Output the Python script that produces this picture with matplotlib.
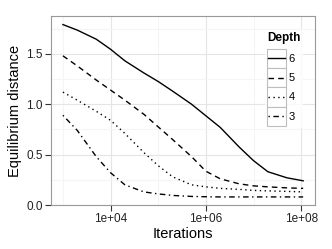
import matplotlib
matplotlib.use("Agg")
import matplotlib.pyplot as plt
from matplotlib.legend_handler import HandlerLine2D
from matplotlib.patches import Rectangle
from matplotlib.lines import Line2D

# iterations (x) and equilibrium distance for each tree depth
iterations = [1e3, 2e3, 5e3, 1e4, 2e4, 5e4, 1e5, 2e5, 5e5, 1e6, 2e6, 5e6, 1e7, 2e7, 5e7, 1.1e8]
depth6 = [1.79, 1.735, 1.645, 1.545, 1.43, 1.31, 1.225, 1.13, 1.00, 0.885, 0.77, 0.575, 0.44, 0.33, 0.27, 0.24]
depth5 = [1.48, 1.38, 1.24, 1.14, 1.04, 0.90, 0.775, 0.65, 0.48, 0.335, 0.26, 0.21, 0.19, 0.18, 0.17, 0.165]
depth4 = [1.12, 1.04, 0.93, 0.84, 0.71, 0.52, 0.39, 0.28, 0.20, 0.18, 0.165, 0.155, 0.145, 0.14, 0.135, 0.13]
depth3 = [0.89, 0.74, 0.48, 0.32, 0.20, 0.13, 0.11, 0.095, 0.085, 0.082, 0.08, 0.08, 0.08, 0.08, 0.08, 0.08]

styles = {"6": "-", "5": (0, (4, 3)), "4": (0, (1, 2.5)), "3": (0, (1, 2.5, 4, 2.5))}
series = [("6", depth6), ("5", depth5), ("4", depth4), ("3", depth3)]

plt.rcParams["font.family"] = ["Liberation Sans", "DejaVu Sans"]

fig = plt.figure(figsize=(3.32, 2.49), dpi=100)
ax = fig.add_axes([51/332, 44/249, 264/332, 189/249])

for name, ys in series:
    ax.plot(iterations, ys, color="black", lw=1.0, ls=styles[name], label=name)

ax.set_xscale("log")
ax.set_xlim(10**2.75, 10**8.29)
ax.set_ylim(0.0, 1.875)
ax.set_xticks([1e4, 1e6, 1e8])
ax.set_xticklabels(["1e+04", "1e+06", "1e+08"])
ax.set_xticks([1e3, 1e5, 1e7], minor=True)
ax.set_yticks([0.0, 0.5, 1.0, 1.5])
ax.set_yticklabels(["0.0", "0.5", "1.0", "1.5"])
ax.set_yticks([0.25, 0.75, 1.25, 1.75], minor=True)
ax.xaxis.set_minor_formatter(plt.NullFormatter())

ax.grid(which="major", color="#e5e5e5", lw=0.8)
ax.grid(which="minor", color="#f5f5f5", lw=0.8)
ax.set_axisbelow(True)
ax.tick_params(which="major", length=4, width=0.8, color="#333333",
               labelsize=8.5, labelcolor="#222222", pad=2)
ax.tick_params(which="minor", length=0)
for s in ax.spines.values():
    s.set_color("#999999")
    s.set_linewidth(0.8)

ax.set_xlabel("Iterations", fontsize=10.5, labelpad=1)
ax.set_ylabel("Equilibrium distance", fontsize=10.5, labelpad=3)


class BoxedLine(HandlerLine2D):
    # ggplot-like key: grey box with the line across it
    def create_artists(self, legend, orig_handle, xdescent, ydescent,
                       width, height, fontsize, trans):
        box = Rectangle((-xdescent, -ydescent), width, height, facecolor="white",
                        edgecolor="#bdbdbd", lw=0.8, transform=trans)
        ym = -ydescent + height / 2
        ln = Line2D([-xdescent + 1, -xdescent + width - 1], [ym, ym],
                    color="black", lw=1.0, ls=styles[orig_handle.get_label()],
                    transform=trans)
        return [box, ln]


leg = ax.legend(title="Depth", loc="upper left", bbox_to_anchor=(0.81, 0.925),
                fontsize=8, title_fontproperties={"weight": "bold", "size": 8.5},
                handlelength=1.7, handleheight=2.3, labelspacing=0.0,
                handletextpad=0.25, borderpad=0.2, borderaxespad=0,
                frameon=True, fancybox=False, alignment="left",
                handler_map={Line2D: BoxedLine()})
leg._legend_box.sep = 3
leg.get_frame().set_edgecolor("white")
leg.get_frame().set_facecolor("white")
leg.get_frame().set_linewidth(0)

fig.savefig("out.png", dpi=100)
